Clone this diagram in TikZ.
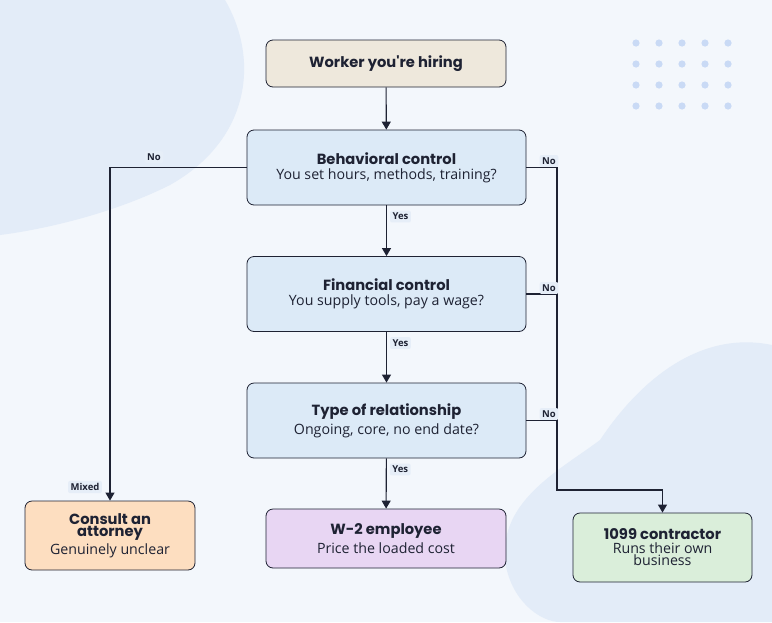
\documentclass[tikz,border=0pt]{standalone}
\usepackage{fontspec}
\setmainfont{Open Sans}
\newfontfamily\headfont{Poppins}
\usetikzlibrary{arrows.meta}
\definecolor{inkc}{HTML}{1E2233}
\definecolor{bgc}{HTML}{F3F7FC}
\definecolor{blobc}{HTML}{E3ECF8}
\definecolor{dotc}{HTML}{C9DAF5}
\definecolor{startc}{HTML}{EEE8DC}
\definecolor{stepc}{HTML}{DCEAF7}
\definecolor{lawc}{HTML}{FDDEC0}
\definecolor{empc}{HTML}{E8D6F3}
\definecolor{conc}{HTML}{DAEEDA}
\definecolor{tagc}{HTML}{E6EEF8}
\tikzset{
	box/.style={draw=inkc, line width=0.8pt, rounded corners=7pt, align=center, text=inkc, inner sep=0pt},
	line/.style={draw=inkc, line width=1.1pt},
	arrow/.style={line, -{Triangle[length=8pt,width=9pt]}},
	tag/.style={fill=tagc, rounded corners=2pt, inner sep=2.5pt, text=inkc, font=\fontsize{9.5}{11}\selectfont\bfseries}
}
\newcommand{\headtext}[1]{{\headfont\bfseries\fontsize{14.7}{18}\selectfont #1}}
\newcommand{\subtext}[1]{{\fontsize{14.2}{18}\selectfont #1}}
\begin{document}
\begin{tikzpicture}[x=1pt,y=-1pt]
	% background
	\fill[bgc] (0,0) rectangle (772,622);
	\useasboundingbox (0,0) rectangle (772,622);
	\fill[blobc] (0,0) -- (225,0) .. controls (260,60) and (250,140) .. (170,185) .. controls (110,215) and (40,230) .. (0,235) -- cycle;
	\fill[blobc] (772,345) .. controls (700,330) and (640,380) .. (600,440) .. controls (560,470) and (500,500) .. (505,560) .. controls (510,600) and (540,622) .. (560,622) -- (772,622) -- cycle;
	\foreach \i in {0,...,4}
		\foreach \j in {0,...,3}
			\fill[dotc] (636+23*\i,43+21*\j) circle (3.6);
	% boxes
	\node[box, fill=startc, minimum width=240pt, minimum height=47pt] (worker) at (386,63.5) {\headtext{Worker you're hiring}};
	\node[box, fill=stepc, minimum width=279pt, minimum height=75pt] (behav) at (386.5,167.5) {\headtext{Behavioral control}\\[3pt]\subtext{You set hours, methods, training?}};
	\node[box, fill=stepc, minimum width=279pt, minimum height=75pt] (fin) at (386.5,294) {\headtext{Financial control}\\[3pt]\subtext{You supply tools, pay a wage?}};
	\node[box, fill=stepc, minimum width=279pt, minimum height=75pt] (rel) at (386.5,420.5) {\headtext{Type of relationship}\\[3pt]\subtext{Ongoing, core, no end date?}};
	\node[box, fill=lawc, minimum width=170pt, minimum height=69pt] (lawyer) at (110,535.5) {\headtext{Consult an}\\\headtext{attorney}\\[2pt]\subtext{Genuinely unclear}};
	\node[box, fill=empc, minimum width=240pt, minimum height=59pt] (w2) at (386,538.5) {\headtext{W-2 employee}\\[3pt]\subtext{Price the loaded cost}};
	\node[box, fill=conc, minimum width=179pt, minimum height=69pt] (c1099) at (662.5,547.5) {\headtext{1099 contractor}\\[2pt]\subtext{Runs their own}\\\subtext{business}};
	% connectors
	\coordinate (rail) at (557,490);
	\draw[arrow] (worker) -- (behav);
	\draw[arrow] (behav) -- node[tag, right=3pt, pos=0.22] {Yes} (fin);
	\draw[arrow] (fin) -- node[tag, right=3pt, pos=0.22] {Yes} (rel);
	\draw[arrow] (rel) -- node[tag, right=3pt, pos=0.22] {Yes} (w2);
	\draw[arrow] (behav.west) -- (lawyer.north |- behav.west) -- (lawyer.north);
	\draw[arrow] (behav.east) -- (rail |- behav.east) -- (rail) -- (c1099.north |- rail) -- (c1099.north);
	\draw[line] (fin.east) -- (rail |- fin.east);
	\draw[line] (rel.east) -- (rail |- rel.east);
	\node[tag] (nol) at (154,157) {No};
	\node[tag] (mixed) at (85,487) {Mixed};
	\node[tag] (nob) at (549,161) {No};
	\node[tag] (nof) at (549,288) {No};
	\node[tag] (nor) at (549,414) {No};
\end{tikzpicture}
\end{document}
